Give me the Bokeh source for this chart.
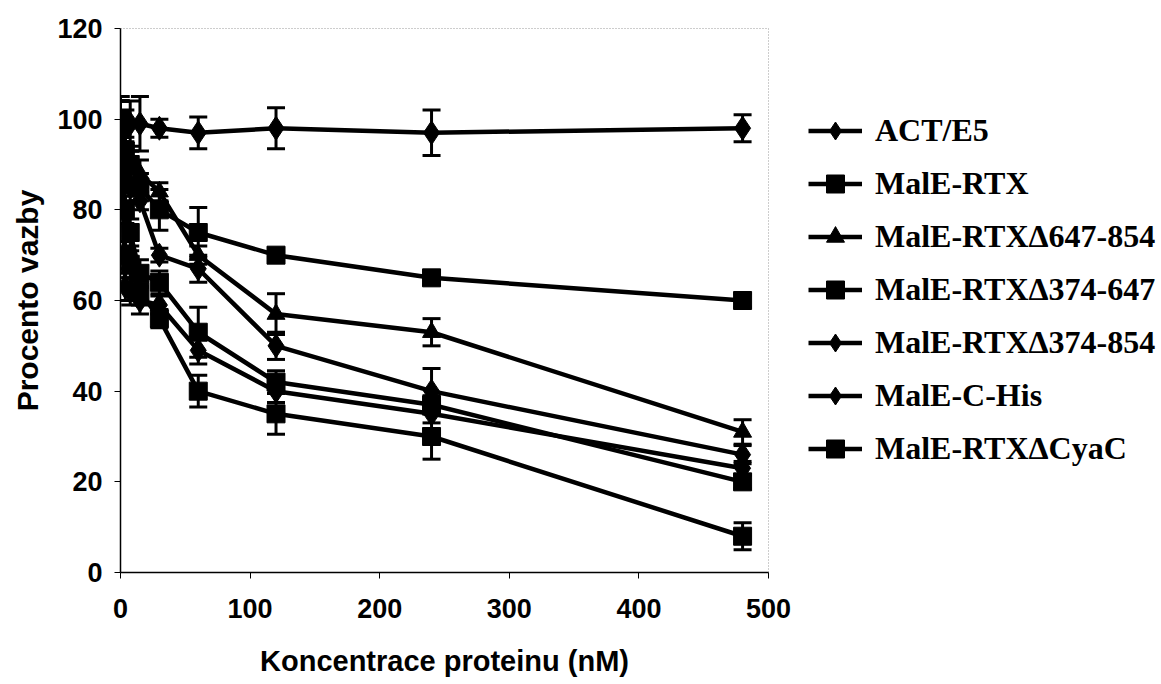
from bokeh.plotting import figure
from bokeh.models import (ColumnDataSource, Whisker, TeeHead, Legend, LegendItem,
                          FixedTicker, Range1d)
from bokeh.embed import file_html
from bokeh.resources import INLINE

# ---- data ----
conc = [0, 3.75, 7.5, 15, 30, 60, 120, 240, 480]

names = ["ACT/E5", "MalE-RTX", "MalE-RTXΔ647-854", "MalE-RTXΔ374-647",
         "MalE-RTXΔ374-854", "MalE-C-His", "MalE-RTXΔCyaC"]
markers = ["diamond", "square", "triangle", "square", "diamond", "diamond", "square"]

act_e5      = [100, 98, 99, 99, 98, 97, 98, 97, 98]
act_e5_err  = [5, 4, 5, 6, 2, 3.5, 4.5, 5, 3]
rtx         = [100, 93, 90, 85, 80, 75, 70, 65, 60]
rtx_err     = [5, 3, 3, 3, 4.5, 5.5, 1.5, 1.5, 1.5]
d647_854    = [100, 92, 90, 88, 84, 70, 57, 53, 31]
d647_854_err = [4, 3, 3, 3, 2, 2, 4.5, 3, 2.7]
d374_647    = [100, 80, 75, 66, 64, 53, 42, 37, 20]
d374_647_err = [4, 3, 3, 3, 2.5, 5.5, 2.5, 2, 1.5]
d374_854    = [100, 88, 85, 82, 70, 67, 50, 40, 26]
d374_854_err = [4, 3, 3, 2, 1.5, 3, 3, 5, 2]
c_his       = [100, 63, 62, 60, 59, 49, 40, 35, 23]
c_his_err   = [4, 3, 3, 3, 2, 3, 2.5, 2, 1.5]
cyac        = [100, 70, 68, 62, 56, 40, 35, 30, 8]
cyac_err    = [4, 3, 3, 3, 2, 3.5, 4.5, 5, 3]

series = [act_e5, rtx, d647_854, d374_647, d374_854, c_his, cyac]
errors = [act_e5_err, rtx_err, d647_854_err, d374_647_err, d374_854_err, c_his_err, cyac_err]

x_ticks = [0, 100, 200, 300, 400, 500]
y_ticks = [0, 20, 40, 60, 80, 100, 120]

# ---- figure ----
p = figure(frame_width=648, frame_height=544, output_backend="svg", toolbar_location=None,
           x_range=Range1d(0, 500), y_range=Range1d(0, 120),
           min_border_left=120, min_border_right=393,
           min_border_top=28, min_border_bottom=112)
p.xgrid.visible = False
p.ygrid.visible = False
p.background_fill_color = "white"
p.border_fill_color = "white"
p.outline_line_color = "#9a9a9a"
p.outline_line_dash = "1 2"
p.outline_line_width = 1

size_map = {"diamond": 24, "square": 18, "triangle": 18}

items = []
for name, mk, ys, es in zip(names, markers, series, errors):
    src = ColumnDataSource(dict(x=conc, y=ys,
                                up=[v + e for v, e in zip(ys, es)],
                                lo=[v - e for v, e in zip(ys, es)]))
    w = Whisker(source=src, base="x", upper="up", lower="lo",
                line_color="black", line_width=3,
                upper_head=TeeHead(size=18, line_width=3, line_color="black"),
                lower_head=TeeHead(size=18, line_width=3, line_color="black"))
    p.add_layout(w)
    lr = p.line("x", "y", source=src, line_color="black", line_width=4.5)
    sr = p.scatter("x", "y", source=src, marker=mk, size=size_map[mk],
                   fill_color="black", line_color="black", line_width=1)
    items.append(LegendItem(label=name, renderers=[lr, sr]))

legend = Legend(items=items, location=(40, 101), orientation="vertical",
                glyph_width=54, glyph_height=45, spacing=8, padding=0, margin=0,
                label_standoff=13,
                label_text_font="Liberation Serif", label_text_font_style="bold",
                label_text_font_size="32px", label_text_color="black",
                border_line_color=None, background_fill_alpha=0)
p.add_layout(legend, "right")

for ax in (p.xaxis[0], p.yaxis[0]):
    ax.axis_line_color = "black"
    ax.axis_line_width = 1.5
    ax.major_tick_line_color = "black"
    ax.major_tick_line_width = 1
    ax.major_tick_out = 6
    ax.major_tick_in = 0
    ax.minor_tick_line_color = None
    ax.major_label_text_font = "Liberation Sans"
    ax.major_label_text_font_style = "bold"
    ax.major_label_text_font_size = "27px"
    ax.major_label_text_color = "black"
    ax.axis_label_text_font = "Liberation Sans"
    ax.axis_label_text_font_style = "bold"
    ax.axis_label_text_color = "black"

p.xaxis.axis_label_text_font_size = "29px"
p.yaxis.axis_label_text_font_size = "30px"
p.xaxis.ticker = FixedTicker(ticks=x_ticks)
p.yaxis.ticker = FixedTicker(ticks=y_ticks)
p.xaxis.axis_label = "Koncentrace proteinu (nM)"
p.yaxis.axis_label = "Procento vazby"
p.xaxis.major_label_standoff = 20
p.xaxis.axis_label_standoff = 24
p.yaxis.major_label_standoff = 12
p.yaxis.axis_label_standoff = 10

open("out.html", "w").write(file_html(p, INLINE))
